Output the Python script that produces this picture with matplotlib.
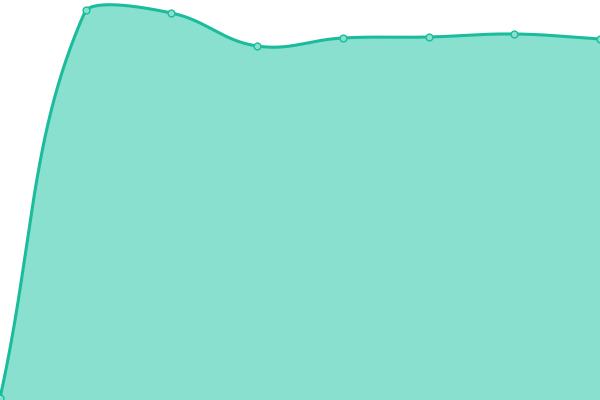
import numpy as np
import matplotlib
matplotlib.use("Agg")
import matplotlib.pyplot as plt

categories = ["1", "2", "3", "4", "5", "6", "7", "8"]
values = [2, 390, 387, 354, 362, 363, 366, 361]

LINE = "#1abc9c"
FILL = "#8ae0cf"

fig = plt.figure(figsize=(6, 4), dpi=100)
ax = fig.add_axes([0, 0, 1, 1])
ax.set_xlim(0, len(values) - 1)
ax.set_ylim(0, 400)
ax.axis("off")

x = np.arange(len(values), dtype=float)
pts = ax.transData.transform(np.column_stack([x, values]))
bbox = ax.bbox

# Chart.js style bezier spline (tension 0.4) in display space, control points capped to area
t = 0.4
n = len(pts)
cp_prev = np.zeros_like(pts)
cp_next = np.zeros_like(pts)
for i in range(n):
    p = pts[max(i - 1, 0)]
    c = pts[i]
    q = pts[min(i + 1, n - 1)]
    d01 = np.hypot(*(c - p))
    d12 = np.hypot(*(q - c))
    tot = d01 + d12
    s01 = d01 / tot if tot else 0
    s12 = d12 / tot if tot else 0
    cp_prev[i] = c - t * s01 * (q - p)
    cp_next[i] = c + t * s12 * (q - p)
for cp in (cp_prev, cp_next):
    cp[:, 0] = np.clip(cp[:, 0], bbox.x0, bbox.x1)
    cp[:, 1] = np.clip(cp[:, 1], bbox.y0, bbox.y1)

curve = []
u = np.linspace(0, 1, 60)[:, None]
for i in range(n - 1):
    P0, P1, P2, P3 = pts[i], cp_next[i], cp_prev[i + 1], pts[i + 1]
    seg = ((1 - u) ** 3) * P0 + 3 * ((1 - u) ** 2) * u * P1 + 3 * (1 - u) * u ** 2 * P2 + u ** 3 * P3
    curve.append(seg if i == 0 else seg[1:])
curve = np.vstack(curve)
data_curve = ax.transData.inverted().transform(curve)

ax.fill_between(data_curve[:, 0], data_curve[:, 1], 0, color=FILL, lw=0, zorder=1)
ax.plot(data_curve[:, 0], data_curve[:, 1], color=LINE, lw=2.2, zorder=2, clip_on=False)
ax.scatter(x, values, s=24, facecolor=FILL, edgecolor=LINE, linewidth=1, zorder=3, clip_on=False)

fig.savefig("out.png", dpi=100)
